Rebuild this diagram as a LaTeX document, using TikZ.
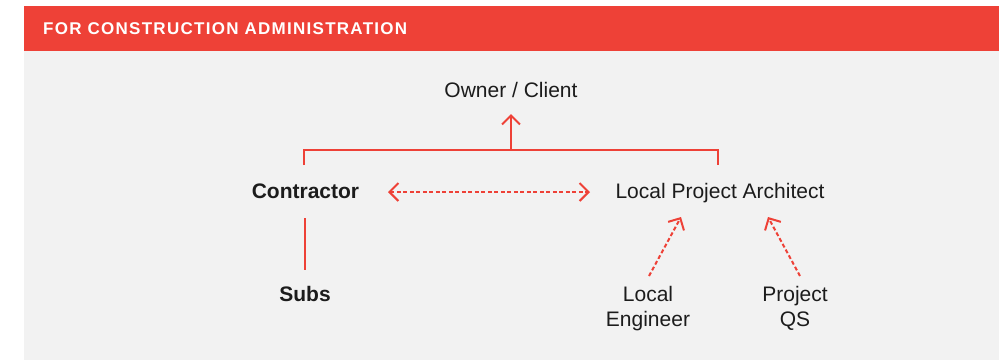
\documentclass[tikz,border=0pt]{standalone}
\usepackage{fontspec}
\setmainfont{Liberation Sans}
\newfontfamily\headfont[LetterSpace=7.5]{Liberation Sans}
\usetikzlibrary{arrows.meta}
\definecolor{hred}{HTML}{EE4137}
\definecolor{panel}{HTML}{F2F2F2}
\definecolor{ink}{HTML}{1C1C1C}
\tikzset{
  lbl/.style={text=ink, font=\fontsize{21}{25}\selectfont, inner sep=0pt, align=center},
  blbl/.style={lbl, font=\fontsize{21}{25}\selectfont\bfseries},
  conn/.style={draw=hred, line width=2pt},
  dconn/.style={draw=hred, line width=2pt, dash pattern=on 4pt off 2.5pt},
  tip/.style={-{Straight Barb[length=9pt,width=18pt,line width=2pt]}},
  tips/.style={{Straight Barb[length=9pt,width=18pt,line width=2pt]}-{Straight Barb[length=9pt,width=18pt,line width=2pt]}}
}
\begin{document}
\begin{tikzpicture}[x=1pt,y=-1pt]
\useasboundingbox (0,0) rectangle (1005,360);
\fill[white] (0,0) rectangle (1005,360);
\fill[panel] (24,50.5) rectangle (999,360);
\fill[hred] (24,6) rectangle (999,50.5);
\node[anchor=base west, text=white, inner sep=0pt, font=\headfont\fontsize{17}{19}\selectfont\bfseries] (head) at (43,34) {FOR CONSTRUCTION ADMINISTRATION};

\node[lbl, anchor=base] (owner) at (511,97) {Owner / Client};
\node[blbl, anchor=base] (contr) at (305.5,198) {Contractor};
\node[lbl, anchor=base] (arch) at (720,198) {Local Project Architect};
\node[blbl, anchor=base] (subs) at (305,301) {Subs};
\node[lbl, anchor=base] (eng) at (648,326) {Local\\Engineer};
\node[lbl, anchor=base] (qs) at (795,326) {Project\\QS};

\coordinate (bl) at (304,165);
\coordinate (br) at (718,165);
\coordinate (bm) at (511,150);
\draw[conn] (bl) -- (304,150) -- (718,150) -- (br);
\draw[conn, tip] (bm) -- (owner.south |- 0,114);

\draw[dconn, tips] (388,192) -- (590,192);
\draw[conn] (305,218) -- (305,270);

\coordinate (e1) at (649,276);
\coordinate (e2) at (681,217);
\coordinate (q1) at (800,276);
\coordinate (q2) at (768,217);
\draw[dconn, tip] (e1) -- (e2);
\draw[dconn, tip] (q1) -- (q2);
\end{tikzpicture}
\end{document}
